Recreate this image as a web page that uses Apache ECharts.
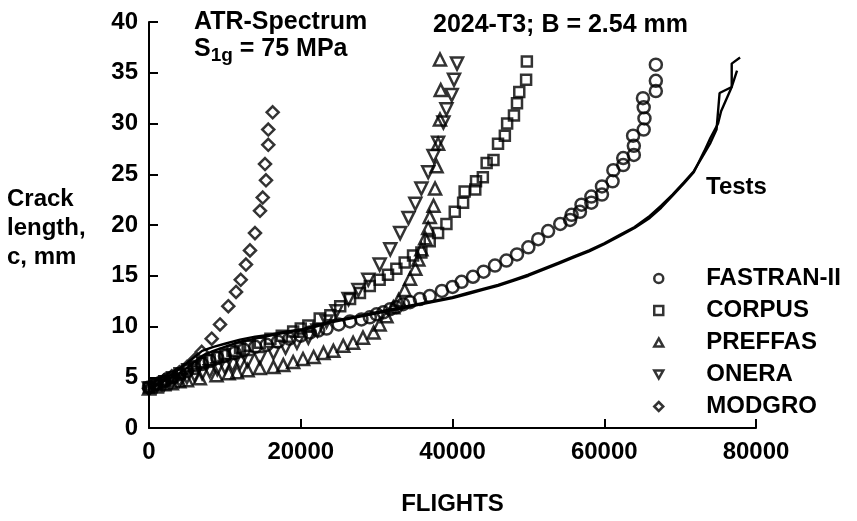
<!DOCTYPE html>
<html>
<head>
<meta charset="utf-8">
<script src="https://cdn.jsdelivr.net/npm/echarts@6/dist/echarts.min.js"></script>
<style>
  html, body { margin: 0; padding: 0; background: #fff; }
</style>
</head>
<body>
<div id="crackChart" style="width: 857px;height: 521px;"></div>
<script>
// axis ticks
var xTicks = [0, 20000, 40000, 60000, 80000]
var yTicks = [0, 5, 10, 15, 20, 25, 30, 35, 40]

// model predictions, [flights, crack length mm]
var fastran = [
  [0, 4.0], [800, 4.3], [1600, 4.5], [2400, 4.8], [3200, 5.0], [4000, 5.3], [5000, 5.6],
  [6000, 5.9], [7000, 6.3], [8000, 6.6], [9000, 6.9], [10000, 7.1], [11300, 7.4], [12500, 7.7],
  [14000, 8.0], [15500, 8.2], [17000, 8.5], [18500, 8.8], [20000, 9.1], [21200, 9.4], [22300, 9.6],
  [23400, 9.8], [25000, 10.2], [26500, 10.5], [28000, 10.7], [29100, 10.9], [30000, 11.2],
  [30900, 11.4], [31800, 11.7], [32600, 11.9], [33500, 12.2], [34400, 12.4], [35700, 12.7],
  [37000, 13.0], [38600, 13.5], [40000, 13.9], [41200, 14.4], [42700, 14.9], [44100, 15.4],
  [45600, 16.0], [47100, 16.5], [48500, 17.1], [50000, 17.8], [51300, 18.6], [52600, 19.4],
  [54200, 20.1], [55500, 20.5], [55700, 21.0], [56800, 21.3], [57000, 22.0], [58300, 22.2],
  [58300, 22.8], [59700, 23.0], [59700, 23.8], [61100, 24.3], [61200, 25.4], [62500, 25.9],
  [62500, 26.6], [63900, 26.9], [63900, 27.8], [63800, 28.8], [65200, 29.4], [65300, 30.5],
  [65200, 31.6], [65100, 32.5], [66800, 33.2], [66800, 34.2], [66800, 35.8]
]
var corpus = [
  [0, 4.0], [1000, 4.3], [2000, 4.6], [3000, 5.0], [4000, 5.4], [5000, 5.8], [6000, 6.1],
  [7000, 6.4], [8000, 6.7], [9000, 7.0], [10000, 7.3], [11000, 7.6], [12000, 7.9], [13000, 8.1],
  [14600, 8.4], [16000, 8.8], [17500, 9.1], [19000, 9.5], [20000, 9.8], [21000, 10.1],
  [22500, 10.8], [23900, 11.1], [25200, 12.0], [26500, 12.7], [27800, 13.3], [29100, 14.0],
  [30400, 14.6], [31500, 15.1], [32600, 15.7], [33700, 16.3], [34800, 17.0], [35900, 17.3],
  [37000, 18.4], [38100, 19.2], [39200, 20.1], [40300, 21.3], [41400, 22.2], [41600, 23.3],
  [43000, 23.5], [43100, 24.3], [44000, 24.7], [44500, 26.1], [45400, 26.4], [46000, 28.0],
  [46900, 28.8], [47200, 30.0], [48100, 30.8], [48500, 32.0], [48800, 33.1], [49700, 34.3],
  [49800, 36.1]
]
var preffas = [
  [0, 3.9], [1000, 4.1], [2000, 4.3], [3000, 4.4], [4000, 4.6], [5000, 4.7], [6700, 4.9],
  [8900, 5.2], [10500, 5.4], [11600, 5.5], [13000, 5.7], [14600, 5.9], [16400, 6.0],
  [17700, 6.2], [19000, 6.5], [20300, 6.8], [21700, 7.0], [23000, 7.4], [24300, 7.6],
  [25600, 8.1], [26900, 8.4], [28200, 8.9], [29600, 9.4], [30400, 10.2], [31300, 11.0],
  [32200, 11.9], [32900, 12.6], [33700, 13.6], [34400, 14.7], [35100, 15.7], [35500, 16.6],
  [35900, 17.6], [36400, 18.7], [36800, 19.7], [37000, 20.8], [37500, 21.9], [37700, 23.6],
  [37900, 25.8], [38100, 28.0], [38350, 30.4], [38450, 33.3], [38350, 36.3]
]
var onera = [
  [0, 3.9], [1000, 4.1], [2000, 4.3], [3000, 4.5], [4000, 4.7], [5000, 5.0], [6000, 5.2],
  [7000, 5.4], [8000, 5.6], [9000, 5.8], [10000, 6.0], [11000, 6.2], [12000, 6.4], [13000, 6.6],
  [14600, 6.9], [16400, 7.4], [18000, 7.9], [19500, 8.4], [21000, 8.9], [22200, 9.6],
  [23400, 10.5], [24700, 11.5], [26300, 12.7], [27600, 13.6], [28900, 14.6], [30400, 16.1],
  [31800, 17.6], [33100, 19.2], [34200, 20.7], [35100, 22.1], [35900, 23.6], [36800, 25.2],
  [37500, 26.8], [38100, 28.1], [38800, 30.1], [39200, 31.4], [39900, 32.8], [40200, 34.3],
  [40600, 35.9]
]
var modgro = [
  [0, 3.9], [1000, 4.3], [2000, 4.7], [3000, 5.1], [4000, 5.5], [5000, 6.0], [6000, 6.7],
  [6950, 7.5], [8260, 8.8], [9360, 10.2], [10450, 12.0], [11470, 13.4], [12090, 14.6],
  [12780, 16.1], [13310, 17.5], [13970, 19.2], [14630, 21.4], [14990, 22.7], [15420, 24.4],
  [15290, 26.0], [15720, 27.9], [15720, 29.4], [16300, 31.1]
]

// two test specimens
var test1 = [
  [0, 3.9], [1000, 4.3], [2000, 4.8], [3000, 5.3], [4000, 5.8], [5000, 6.4], [6000, 7.0],
  [7000, 7.6], [8500, 8.0], [10000, 8.3], [12000, 8.7], [14000, 9.0], [16000, 9.2],
  [18000, 9.5], [20000, 9.7], [22000, 10.1], [24000, 10.5], [26000, 10.8], [28000, 11.1],
  [30000, 11.4], [32000, 11.7], [34000, 12.0], [36000, 12.3], [38000, 12.6], [40000, 12.9],
  [42000, 13.3], [44000, 13.7], [46000, 14.1], [48000, 14.6], [50000, 15.1], [52000, 15.7],
  [54000, 16.3], [56000, 16.9], [58000, 17.5], [60000, 18.2], [62000, 19.0], [64000, 19.8],
  [66000, 20.9], [67500, 21.9], [69000, 23.0], [70500, 24.2], [71800, 25.3], [73000, 26.8],
  [74000, 28.1], [74800, 29.4], [75200, 33.0], [76800, 33.6], [76800, 35.9], [77900, 36.5]
]
var test2 = [
  [0, 3.9], [1000, 4.2], [2000, 4.6], [3000, 5.0], [4000, 5.4], [5000, 5.9], [6000, 6.5],
  [7000, 7.1], [8500, 7.6], [10000, 8.0], [12000, 8.5], [14000, 8.8], [16000, 9.1],
  [18000, 9.4], [20000, 9.6], [22000, 10.0], [24000, 10.4], [26000, 10.7], [28000, 11.0],
  [30000, 11.3], [32000, 11.6], [34000, 11.9], [36000, 12.2], [38000, 12.5], [40000, 12.8],
  [42000, 13.2], [44000, 13.6], [46000, 14.0], [48000, 14.5], [50000, 15.0], [52000, 15.6],
  [54000, 16.2], [56000, 16.8], [58000, 17.4], [60000, 18.1], [62000, 18.9], [64000, 19.7],
  [66000, 20.7], [67500, 21.7], [69000, 22.9], [70500, 24.1], [71800, 25.2], [73200, 27.3],
  [74000, 28.6], [75000, 30.0], [75400, 31.2], [76800, 33.6], [77500, 35.2]
]

var font = 'Liberation Sans, Arial, sans-serif'
var fs = 24
var fw = 'bold'
var hollow = { color: 'transparent', borderColor: '#000', borderWidth: 2.5 }

// symbol shapes shared by the plot and the legend
var triUp = 'path://M5,0 L10,9 L0,9 Z'
var triDown = 'path://M0,0 L10,0 L5,9 Z'
var diamond = 'path://M5,0 L10,5 L5,10 L0,5 Z'

function markers(name, data, symbol, size) {
  return {
    name: name,
    type: 'scatter',
    data: data,
    symbol: symbol,
    symbolSize: size,
    itemStyle: hollow,
    z: 3
  }
}

function testLine(data) {
  return {
    name: 'Tests',
    type: 'line',
    data: data,
    showSymbol: false,
    lineStyle: { color: '#000', width: 2.4 },
    z: 2
  }
}

function legendItem(name, icon) {
  return { name: name, icon: icon, itemStyle: hollow }
}

var option = {
  animation: false,
  backgroundColor: '#fff',
  textStyle: { fontFamily: font, color: '#000' },
  grid: { left: 149, right: 101, top: 22, bottom: 79 },
  legend: {
    data: [
      legendItem('FASTRAN-II', 'circle'),
      legendItem('CORPUS', 'rect'),
      legendItem('PREFFAS', triUp),
      legendItem('ONERA', triDown),
      legendItem('MODGRO', diamond)
    ],
    orient: 'vertical',
    left: 648,
    top: 261,
    itemWidth: 9,
    itemHeight: 9,
    itemGap: 7,
    textStyle: { fontFamily: font, fontSize: fs, fontWeight: fw, color: '#000', lineHeight: 25, padding: [0, 0, 0, 38] }
  },
  xAxis: {
    type: 'value',
    min: 0,
    max: 80000,
    interval: 20000,
    name: 'FLIGHTS',
    nameLocation: 'middle',
    nameGap: 64,
    nameTextStyle: { fontFamily: font, fontSize: fs, fontWeight: fw, color: '#000' },
    axisLine: { lineStyle: { color: '#000', width: 2 } },
    axisTick: { inside: true, length: 9, lineStyle: { color: '#000', width: 2 } },
    axisLabel: {
      fontFamily: font, fontSize: fs, fontWeight: fw, color: '#000', margin: 12,
      formatter: function(v) { return xTicks.indexOf(v) >= 0 ? String(v) : '' }
    },
    splitLine: { show: false }
  },
  yAxis: {
    type: 'value',
    min: 0,
    max: 40,
    interval: 5,
    axisLine: { show: true, lineStyle: { color: '#000', width: 2 } },
    axisTick: { show: true, inside: true, length: 9, lineStyle: { color: '#000', width: 2 } },
    axisLabel: {
      fontFamily: font, fontSize: fs, fontWeight: fw, color: '#000', margin: 11,
      formatter: function(v) { return yTicks.indexOf(v) >= 0 ? String(v) : '' }
    },
    splitLine: { show: false }
  },
  graphic: [
    {
      type: 'text', left: 7, top: 185,
      style: { text: 'Crack\nlength,\nc, mm', font: fw + ' ' + fs + 'px ' + font, fill: '#000', lineHeight: 29 }
    },
    {
      type: 'text', left: 194, top: 10,
      style: { text: 'ATR-Spectrum', font: fw + ' 25px ' + font, fill: '#000' }
    },
    {
      type: 'text', left: 194, top: 37,
      style: {
        text: '{a|S}{s|1g}{a| = 75 MPa}',
        rich: {
          a: { fontFamily: font, fontSize: 25, fontWeight: fw, color: '#000' },
          s: { fontFamily: font, fontSize: 19, fontWeight: fw, color: '#000', padding: [12, 0, 0, 0] }
        }
      }
    },
    {
      type: 'text', left: 433, top: 13,
      style: { text: '2024-T3; B = 2.54 mm', font: fw + ' 25px ' + font, fill: '#000' }
    },
    {
      type: 'text', left: 706, top: 175,
      style: { text: 'Tests', font: fw + ' ' + fs + 'px ' + font, fill: '#000' }
    }
  ],
  series: [
    testLine(test1),
    testLine(test2),
    markers('FASTRAN-II', fastran, 'circle', 12),
    markers('CORPUS', corpus, 'rect', 10),
    markers('PREFFAS', preffas, triUp, 12),
    markers('ONERA', onera, triDown, 12),
    markers('MODGRO', modgro, diamond, 12)
  ]
}

var chart = echarts.init(document.getElementById('crackChart'))
chart.setOption(option)
</script>
</body>
</html>
